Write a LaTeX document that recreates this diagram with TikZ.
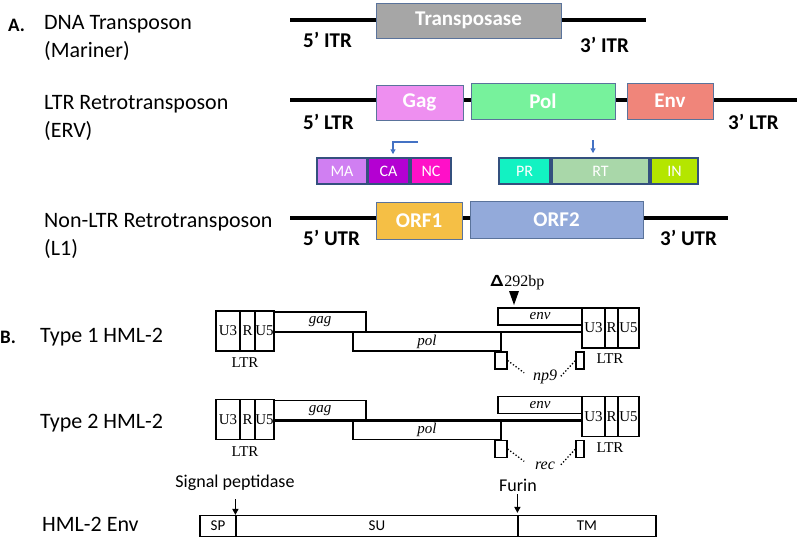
\documentclass[tikz,border=0pt]{standalone}
\usepackage{fontspec}
\setmainfont{Carlito}
\newfontfamily\serifB{Liberation Serif}
\usetikzlibrary{arrows.meta}
\definecolor{boxedge}{HTML}{5A739B}
\definecolor{subedge}{HTML}{34507E}
\definecolor{cTp}{HTML}{A6A6A6}
\definecolor{cGag}{HTML}{EE8FF0}
\definecolor{cPol}{HTML}{77F29C}
\definecolor{cEnv}{HTML}{F0857A}
\definecolor{cMA}{HTML}{D07FF2}
\definecolor{cCA}{HTML}{B400D2}
\definecolor{cNC}{HTML}{FF10C8}
\definecolor{cPR}{HTML}{12F2C2}
\definecolor{cRT}{HTML}{A9D7A9}
\definecolor{cIN}{HTML}{B4E600}
\definecolor{cORFa}{HTML}{F5BF45}
\definecolor{cORFb}{HTML}{93AADA}
\definecolor{arrblue}{HTML}{4472C4}
\begin{document}
\begin{tikzpicture}[x=1pt,y=-1pt,
  backbone/.style={line width=4.2pt},
  gene/.style={draw=boxedge, line width=0.9pt, inner sep=0pt, text=white, font=\fontsize{21}{24}\selectfont\bfseries},
  subbox/.style={draw=subedge, line width=1.5pt, inner sep=0pt, text=white, minimum height=26pt, font=\fontsize{16}{18}\selectfont},
  endlab/.style={anchor=west, inner sep=0pt, font=\fontsize{21}{24}\selectfont\bfseries},
  sidelab/.style={anchor=west, inner sep=0pt, align=left, font=\fontsize{22}{28}\selectfont},
  panel/.style={anchor=west, inner sep=0pt, font=\fontsize{19}{22}\selectfont\bfseries},
  cell/.style={draw, line width=1.2pt, inner sep=0pt, minimum height=40pt, font=\serifB\fontsize{15}{17}\selectfont},
  orfbox/.style={draw, line width=1.2pt, inner sep=0pt, font=\serifB\itshape\fontsize{15}{17}\selectfont},
  smallbox/.style={draw, line width=1.2pt, inner sep=0pt, minimum height=17pt},
  seriflab/.style={inner sep=0pt, font=\serifB\fontsize{15}{17}\selectfont},
  orflab/.style={inner sep=0pt, minimum width=30pt, font=\serifB\itshape\fontsize{16}{18}\selectfont},
  dots/.style={dotted, line width=1.3pt},
  hthick/.style={line width=2.2pt},
  envcell/.style={draw, line width=1.2pt, inner sep=0pt, minimum height=21pt, font=\fontsize{15}{17}\selectfont},
  caplab/.style={inner sep=0pt, font=\fontsize{18}{20}\selectfont},
  blackarrow/.style={-{Triangle[length=6pt,width=6pt]}, line width=1.4pt},
  bluearrow/.style={-{Triangle[length=5pt,width=5pt]}, line width=1.2pt, draw=arrblue, color=arrblue}
]
\useasboundingbox (0,0) rectangle (800,538);

% ---------- Panel A ----------
\node[panel] (pA) at (8,25) {A.};
\node[sidelab] (l1) at (44,38) {DNA Transposon\\(Mariner)};
\node[sidelab] (l2) at (44,118) {LTR Retrotransposon\\(ERV)};
\node[sidelab] (l3) at (44,236) {Non-LTR Retrotransposon\\(L1)};

% DNA transposon
\coordinate (d1) at (290,20);
\coordinate (d2) at (646,20);
\draw[backbone] (d1) -- (d2);
\node[gene, fill=cTp, minimum width=185pt, minimum height=35pt] (tp) at (468.5,20.5) {Transposase};
\node[endlab] (itr5) at (303,40) {5’ ITR};
\node[endlab] (itr3) at (580,45) {3’ ITR};

% LTR retrotransposon
\coordinate (e1) at (290,100);
\coordinate (e2) at (797,100);
\draw[backbone] (e1) -- (e2);
\node[gene, fill=cGag, minimum width=87pt, minimum height=35pt] (gag) at (419.5,102.5) {Gag};
\node[gene, fill=cPol, minimum width=144pt, minimum height=36pt] (pol) at (543,101) {Pol};
\node[gene, fill=cEnv, minimum width=86pt, minimum height=36pt] (env) at (670,101) {Env};
\node[endlab] (ltr5) at (303,122) {5’ LTR};
\node[endlab] (ltr3) at (728,122) {3’ LTR};

\node[subbox, fill=cMA, minimum width=50pt] (ma) at (342,171) {MA};
\node[subbox, fill=cCA, minimum width=41pt] (ca) at (388.5,171) {CA};
\node[subbox, fill=cNC, minimum width=40pt] (nc) at (431,171) {NC};
\node[subbox, fill=cPR, minimum width=51pt] (pr) at (524.5,171) {PR};
\node[subbox, fill=cRT, minimum width=97pt] (rt) at (600.5,171) {RT};
\node[subbox, fill=cIN, minimum width=47pt] (in) at (674.5,171) {IN};

\coordinate (caStart) at (418,142);
\draw[bluearrow, shorten >=3pt] (caStart) -| ([xshift=4.5pt]ca.north);
\coordinate (rtStart) at (593,140);
\draw[bluearrow, shorten >=4pt] (rtStart) -- (rtStart |- rt.north);

% L1
\coordinate (f1) at (290,218);
\coordinate (f2) at (728,218);
\draw[backbone] (f1) -- (f2);
\node[gene, fill=cORFa, minimum width=86pt, minimum height=37pt] (orf1) at (419,220.5) {ORF1};
\node[gene, fill=cORFb, minimum width=173pt, minimum height=37pt] (orf2) at (556.5,219.5) {ORF2};
\node[endlab] (utr5) at (303,238) {5’ UTR};
\node[endlab] (utr3) at (660,238) {3’ UTR};

% ---------- Panel B ----------
\node[panel] (pB) at (0,337) {B.};
\node[sidelab] (t1) at (40,337) {Type 1 HML-2};
\node[sidelab] (t2) at (40,423) {Type 2 HML-2};
\node[sidelab] (t3) at (42,524) {HML-2 Env};

\foreach \dy/\lab/\k in {0/np9/a, 88.5/rec/b}{
  \draw[hthick] (274,{332+\dy}) coordinate (bs\k) -- (582,{332+\dy}) coordinate (be\k);
  \node[cell, minimum width=24pt] (lu3\k) at (228,{331+\dy}) {U3};
  \node[cell, minimum width=15pt] (lr\k) at (247.5,{331+\dy}) {R};
  \node[cell, minimum width=19pt] (lu5\k) at (264.5,{331+\dy}) {U5};
  \node[seriflab] (lltr\k) at (245,{363+\dy}) {LTR};
  \node[orfbox, minimum width=92pt, minimum height=20pt] (gag\k) at (320,{322+\dy}) {gag};
  \node[orfbox, minimum width=148pt, minimum height=19pt] (pol\k) at (427,{341.5+\dy}) {pol};
  \node[orfbox, minimum width=84pt, minimum height=17pt] (env\k) at (540,{316.5+\dy}) {env};
  \node[cell, minimum width=23pt] (ru3\k) at (593.5,{328+\dy}) {U3};
  \node[cell, minimum width=13pt] (rr\k) at (611.5,{328+\dy}) {R};
  \node[cell, minimum width=21pt] (ru5\k) at (628.5,{328+\dy}) {U5};
  \node[seriflab] (rltr\k) at (610,{359+\dy}) {LTR};
  \node[smallbox, minimum width=12pt] (sl\k) at (501,{360.5+\dy}) {};
  \node[smallbox, minimum width=8pt] (sr\k) at (580,{360.5+\dy}) {};
  \node[orflab] (orf\k) at (545,{377+\dy}) {\lab};
  \draw[dots, shorten >=7pt] (sl\k.east) -- (orf\k.west);
  \draw[dots, shorten <=1pt] (orf\k.east) -- (sr\k.west);
}

\node[seriflab, font=\serifB\fontsize{16}{18}\selectfont] (del) at (517,283) {{\sffamily\bfseries Δ}292bp};
\fill (509,291) -- (519,291) -- (514,305) -- cycle;

% Env
\node[envcell, minimum width=36pt] (sp) at (218,526) {SP};
\node[envcell, minimum width=282pt] (su) at (377,526) {SU};
\node[envcell, minimum width=138pt] (tm) at (587,526) {TM};
\node[caplab] (sig) at (235,483) {Signal peptidase};
\node[caplab] (fur) at (518,485) {Furin};
\draw[blackarrow] (sig.south -| su.north west) ++(0,8) -- (su.north west);
\draw[blackarrow, shorten >=2pt] (fur.south -| tm.north west) ++(0,3) -- (tm.north west);
\end{tikzpicture}
\end{document}
